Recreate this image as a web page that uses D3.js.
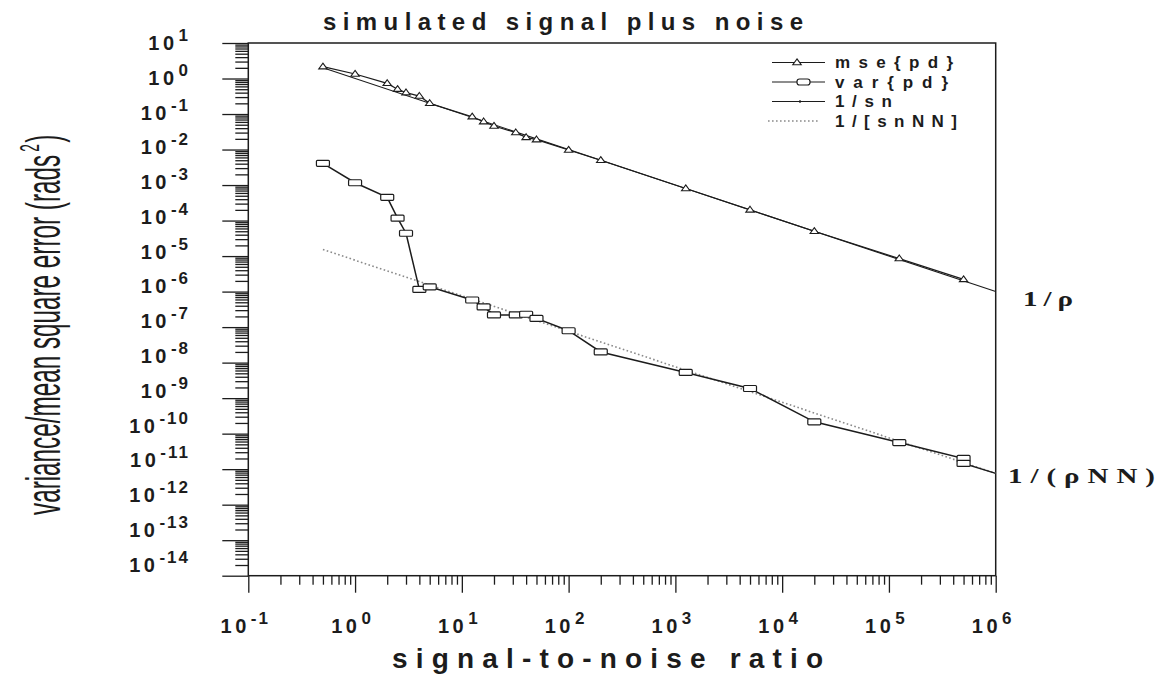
<!DOCTYPE html>
<html><head><meta charset="utf-8">
<script src="https://cdn.jsdelivr.net/npm/d3@7"></script>
<style>
html,body{margin:0;padding:0;background:#fff;}
svg{display:block;}
</style></head>
<body>
<svg id="chart" width="1161" height="676"></svg>
<script>
// Simulated signal-to-noise ratios
const snr = [0.5, 1, 2, 2.5, 3, 4, 5, 12.5, 16, 20, 32, 40, 50, 100, 200, 1250, 5000, 20000, 125000, 500000];
// Mean square error of the phase-difference estimate
const msePd = [2.15, 1.34, 0.73, 0.50, 0.40, 0.32, 0.20, 0.084, 0.061, 0.046, 0.030, 0.022, 0.019, 0.0097, 0.005, 8e-4, 2e-4, 5e-5, 8.5e-6, 2.2e-6];
// Variance of the phase-difference estimate (two runs at 5e5, run-out to 1e6)
const varSnr = [0.5, 1, 2, 2.5, 3, 4, 5, 12.5, 16, 20, 32, 40, 50, 100, 200, 1250, 5000, 20000, 125000, 500000, 500000, 1e6];
const varPd = [4.1e-3, 1.16e-3, 4.5e-4, 1.17e-4, 4.4e-5, 1.15e-6, 1.36e-6, 5.8e-7, 3.7e-7, 2.2e-7, 2.2e-7, 2.3e-7, 1.76e-7, 7.9e-8, 2.0e-8, 5.3e-9, 1.87e-9, 2.15e-10, 5.6e-11, 2.0e-11, 1.45e-11, 7.6e-12];
// Reference bounds 1/sn and 1/[snNN], end points
const boundSnr = [0.5, 1e6];
const boundSn = [2, 1e-6];
const boundSnNN = [1.53e-5, 7.63e-12];
// Axis decades
const xTickExp = [-1, 0, 1, 2, 3, 4, 5, 6];
const yTickExp = [1, 0, -1, -2, -3, -4, -5, -6, -7, -8, -9, -10, -11, -12, -13, -14];
const legendLabels = ["mse{pd}", "var{pd}", "1/sn", "1/[snNN]"];

const svg = d3.select("#chart");
const ink = "#1c1c1c";
const sans = "'Liberation Sans', Arial, Helvetica, sans-serif";

const x = d3.scaleLog().domain([0.1, 1e6]).range([248.3, 995.7]);
const y = d3.scaleLog().domain([1e-14, 10]).range([575.7, 43]);
// tick labels sit on a slightly tighter ladder than the ticks
const yLab = d3.scaleLinear().domain([1, -14]).range([50, 571.7]);

const minors = (lo, hi) => {
  const out = [];
  for (let e = lo; e < hi; e++) for (let m = 2; m <= 9; m++) out.push(m * Math.pow(10, e));
  return out;
};

// ---- left axis ----
const gy = svg.append("g").attr("transform", `translate(${x.range()[0]},0)`);
gy.append("g").call(d3.axisLeft(y).tickValues(minors(-14, 1)).tickSize(13).tickFormat(""));
gy.append("g").call(d3.axisLeft(y).tickValues(yTickExp.map(e => Math.pow(10, e))).tickSize(26).tickFormat(""));
gy.selectAll(".domain").remove();
gy.selectAll("line").attr("stroke", ink).attr("stroke-width", 1.3);

// ---- bottom axis ----
const gx = svg.append("g").attr("transform", `translate(0,${y.range()[0]})`);
gx.append("g").call(d3.axisBottom(x).tickValues(minors(-1, 6)).tickSize(9).tickFormat(""));
gx.append("g").call(d3.axisBottom(x).tickValues(xTickExp.map(e => Math.pow(10, e))).tickSize(17).tickFormat(""));
gx.selectAll(".domain").remove();
gx.selectAll("line").attr("stroke", ink).attr("stroke-width", 1.3);

// ---- frame ----
svg.append("rect")
  .attr("x", x.range()[0]).attr("y", y.range()[1])
  .attr("width", x.range()[1] - x.range()[0])
  .attr("height", y.range()[0] - y.range()[1])
  .attr("fill", "none").attr("stroke", ink).attr("stroke-width", 1.5);

// ---- tick labels ----
function powerLabel(sel, e) {
  sel.append("tspan").attr("font-size", 20).attr("letter-spacing", 3.5).text("10");
  sel.append("tspan").attr("font-size", 17).attr("dx", 1).attr("dy", -9).attr("letter-spacing", 2)
    .text(e < 0 ? "-" + Math.abs(e) : String(e));
}
const yl = svg.append("g").attr("font-family", sans).attr("font-weight", "bold").attr("fill", ink);
yTickExp.forEach(e => {
  const t = yl.append("text").attr("x", 190).attr("y", yLab(e)).attr("text-anchor", "end");
  powerLabel(t, e);
});
const xl = svg.append("g").attr("font-family", sans).attr("font-weight", "bold").attr("fill", ink);
xTickExp.forEach(e => {
  const t = xl.append("text").attr("x", x(Math.pow(10, e)) - 3).attr("y", 633).attr("text-anchor", "middle");
  powerLabel(t, e);
});

// ---- titles ----
svg.append("text").attr("x", 323).attr("y", 30)
  .attr("font-family", sans).attr("font-weight", "bold").attr("font-size", 24).attr("fill", ink)
  .attr("textLength", 480).attr("lengthAdjust", "spacing")
  .text("simulated signal plus noise");
svg.append("text").attr("x", 392).attr("y", 668)
  .attr("font-family", sans).attr("font-weight", "bold").attr("font-size", 28).attr("fill", ink)
  .attr("textLength", 431).attr("lengthAdjust", "spacing")
  .text("signal-to-noise ratio");

// y title: tall condensed lettering, squeezed along its run to 376 px
const ytG = svg.append("g");
const yt = ytG.append("text")
  .attr("font-family", "'Liberation Sans Narrow', 'Liberation Sans', Arial, sans-serif")
  .attr("font-size", 48).attr("fill", ink);
yt.append("tspan").text("variance/mean square error (rads");
yt.append("tspan").attr("font-size", 27).attr("dx", 6).attr("dy", -21).text("2");
yt.append("tspan").attr("dx", 3).attr("dy", 21).text(")");
const ytLen = yt.node().getComputedTextLength();
ytG.attr("transform", `translate(60,515) rotate(-90) scale(${376 / ytLen},1)`);

// ---- series ----
const plot = svg.append("g");
const line = d3.line().x(d => x(d[0])).y(d => y(d[1]));

// 1/[snNN] bound, dotted
plot.append("path")
  .datum(d3.zip(boundSnr, boundSnNN))
  .attr("d", line).attr("fill", "none")
  .attr("stroke", "#8a8a8a").attr("stroke-width", 1.6).attr("stroke-dasharray", "1.6,2.4");
// 1/sn bound, thin solid
plot.append("path")
  .datum(d3.zip(boundSnr, boundSn))
  .attr("d", line).attr("fill", "none")
  .attr("stroke", ink).attr("stroke-width", 1.1);
// mse{pd}
const msePts = d3.zip(snr, msePd);
plot.append("path").datum(msePts).attr("d", line).attr("fill", "none")
  .attr("stroke", ink).attr("stroke-width", 1.2);
// var{pd}
const varPts = d3.zip(varSnr, varPd);
plot.append("path").datum(varPts).attr("d", line).attr("fill", "none")
  .attr("stroke", ink).attr("stroke-width", 1.5);

const triPath = "M0,-3.6L4.2,2.2L-4.2,2.2Z";
plot.selectAll(".tri").data(msePts).join("path")
  .attr("class", "tri")
  .attr("transform", d => `translate(${x(d[0])},${y(d[1])})`)
  .attr("d", triPath).attr("fill", "#fff").attr("stroke", ink).attr("stroke-width", 1.1);
plot.selectAll(".box").data(varPts.filter(d => d[0] < x.domain()[1])).join("rect")
  .attr("class", "box")
  .attr("x", d => x(d[0]) - 6.5).attr("y", d => y(d[1]) - 3)
  .attr("width", 13).attr("height", 6).attr("rx", 1)
  .attr("fill", "#fff").attr("stroke", ink).attr("stroke-width", 1.2);

// ---- right-hand annotations (wide serif lettering) ----
const serif = "'Liberation Serif', 'Times New Roman', serif";
function wideLabel(px, py, len, txt) {
  const sx = 1.45;
  svg.append("g").attr("transform", `translate(${px},${py}) scale(${sx},1)`)
    .append("text")
    .attr("font-family", serif).attr("font-weight", "bold").attr("font-size", 20).attr("fill", ink)
    .attr("textLength", len / sx).attr("lengthAdjust", "spacing").text(txt);
}
wideLabel(1023, 306, 50, "1/ρ");
wideLabel(1008, 483, 147, "1/(ρNN)");

// ---- legend ----
const lg = svg.append("g");
const rowY = [62.5, 82, 101.5, 121];
const textLen = [118, 113, 57, 122];
legendLabels.forEach((lab, i) => {
  const ry = rowY[i];
  const l = lg.append("line").attr("x1", i === 3 ? 768 : 772).attr("x2", i === 3 ? 820 : 825)
    .attr("y1", ry).attr("y2", ry).attr("fill", "none");
  if (i === 3) l.attr("stroke", "#8a8a8a").attr("stroke-width", 1.6).attr("stroke-dasharray", "1.6,2.4");
  else l.attr("stroke", ink).attr("stroke-width", i === 2 ? 1.1 : 1.2);
  if (i === 0) lg.append("path").attr("transform", `translate(797,${ry})`).attr("d", triPath)
    .attr("fill", "#fff").attr("stroke", ink).attr("stroke-width", 1.1);
  if (i === 1) lg.append("rect").attr("x", 797).attr("y", ry - 3).attr("width", 13).attr("height", 6).attr("rx", 2.5)
    .attr("fill", "#fff").attr("stroke", ink).attr("stroke-width", 1.2);
  if (i === 2) lg.append("circle").attr("cx", 800).attr("cy", ry).attr("r", 1.2).attr("fill", ink);
  lg.append("text").attr("x", 835).attr("y", ry + 5.5)
    .attr("font-family", sans).attr("font-weight", "bold").attr("font-size", 17).attr("fill", ink)
    .attr("textLength", textLen[i]).attr("lengthAdjust", "spacing").text(lab);
});
</script>
</body></html>
